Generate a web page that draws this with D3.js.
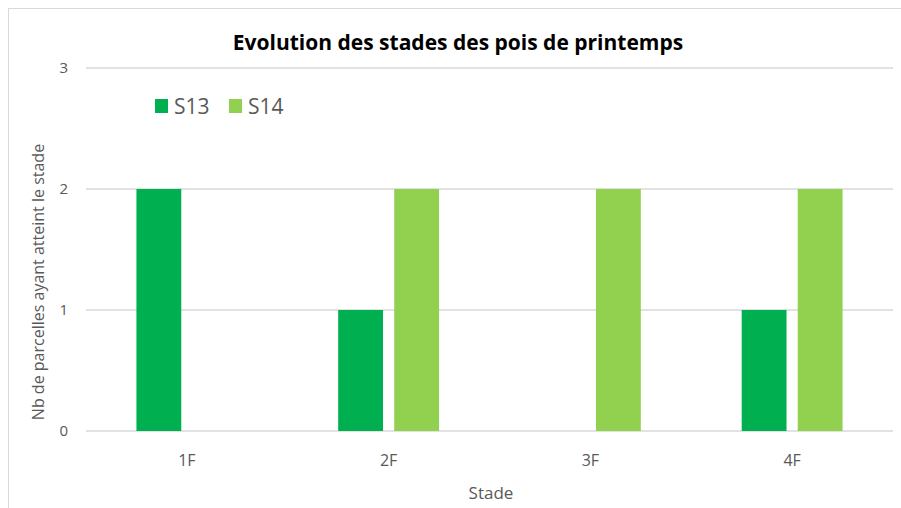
<!DOCTYPE html>
<html>
<head>
<meta charset="utf-8">
<script src="https://cdn.jsdelivr.net/npm/d3@7"></script>
<style>
  body { margin: 0; background: #fff; }
  text { font-family: 'Open Sans', 'Noto Sans', sans-serif; fill: #595959; }
</style>
</head>
<body>
<svg id="chart" width="901" height="508"></svg>
<script>
// data
const stades = ['1F', '2F', '3F', '4F']
const series = ['S13', 'S14']
const s13 = [2, 1, 0, 1]
const s14 = [0, 2, 2, 2]
const yTicks = [0, 1, 2, 3]
const colors = ['#00B050', '#92D050']

const svg = d3.select('#chart')

// chart frame
svg.append('rect')
  .attr('x', 8.5).attr('y', 8.5)
  .attr('width', 900).attr('height', 520)
  .attr('fill', 'none')
  .attr('stroke', '#d9d9d9')

const x = d3.scaleBand().domain(stades).range([86, 893])
  .paddingInner(0.5).paddingOuter(0.25)
const xs = d3.scaleBand().domain(series).range([0, x.bandwidth()]).paddingInner(0.2)
const y = d3.scaleLinear().domain([0, 3]).range([431, 68])

// gridlines
svg.append('g')
  .selectAll('line')
  .data(yTicks)
  .join('line')
  .attr('x1', 86).attr('x2', 893)
  .attr('y1', d => y(d)).attr('y2', d => y(d))
  .attr('stroke', '#d9d9d9')
  .attr('stroke-width', 1.3)

// y axis tick labels
svg.append('g')
  .selectAll('text')
  .data(yTicks)
  .join('text')
  .attr('x', 68)
  .attr('y', d => y(d) + 5)
  .attr('text-anchor', 'end')
  .attr('font-size', 15)
  .text(d => d)

// bars
const rows = stades.map((s, i) => ({ stade: s, values: [s13[i], s14[i]] }))
const groups = svg.append('g')
  .selectAll('g')
  .data(rows)
  .join('g')
  .attr('transform', d => 'translate(' + x(d.stade) + ',0)')

groups.selectAll('rect')
  .data(d => d.values.map((v, j) => ({ key: series[j], value: v, color: colors[j] })))
  .join('rect')
  .attr('x', d => xs(d.key))
  .attr('width', xs.bandwidth())
  .attr('y', d => y(d.value))
  .attr('height', d => y(0) - y(d.value))
  .attr('fill', d => d.color)

// x tick labels
svg.append('g')
  .selectAll('text')
  .data(stades)
  .join('text')
  .attr('x', d => x(d) + x.bandwidth() / 2)
  .attr('y', 466)
  .attr('text-anchor', 'middle')
  .attr('font-size', 16)
  .text(d => d)

// title
svg.append('text')
  .attr('x', 458)
  .attr('y', 50)
  .attr('text-anchor', 'middle')
  .attr('font-size', 21)
  .attr('font-weight', 'bold')
  .style('fill', '#000')
  .text('Evolution des stades des pois de printemps')

// axis titles
svg.append('text')
  .attr('x', 491)
  .attr('y', 499)
  .attr('text-anchor', 'middle')
  .attr('font-size', 17)
  .text('Stade')

svg.append('text')
  .attr('transform', 'translate(44,' + 282 + ') rotate(-90)')
  .attr('text-anchor', 'middle')
  .attr('font-size', 16)
  .text('Nb de parcelles ayant atteint le stade')

// legend
const legendX = [155, 229]
const legend = svg.append('g')
  .selectAll('g')
  .data(series)
  .join('g')
  .attr('transform', (d, i) => 'translate(' + legendX[i] + ',99)')

legend.append('rect')
  .attr('width', 13).attr('height', 14)
  .attr('fill', (d, i) => colors[i])

legend.append('text')
  .attr('x', 19)
  .attr('y', 14.5)
  .attr('font-size', 21)
  .text(d => d)
</script>
</body>
</html>
